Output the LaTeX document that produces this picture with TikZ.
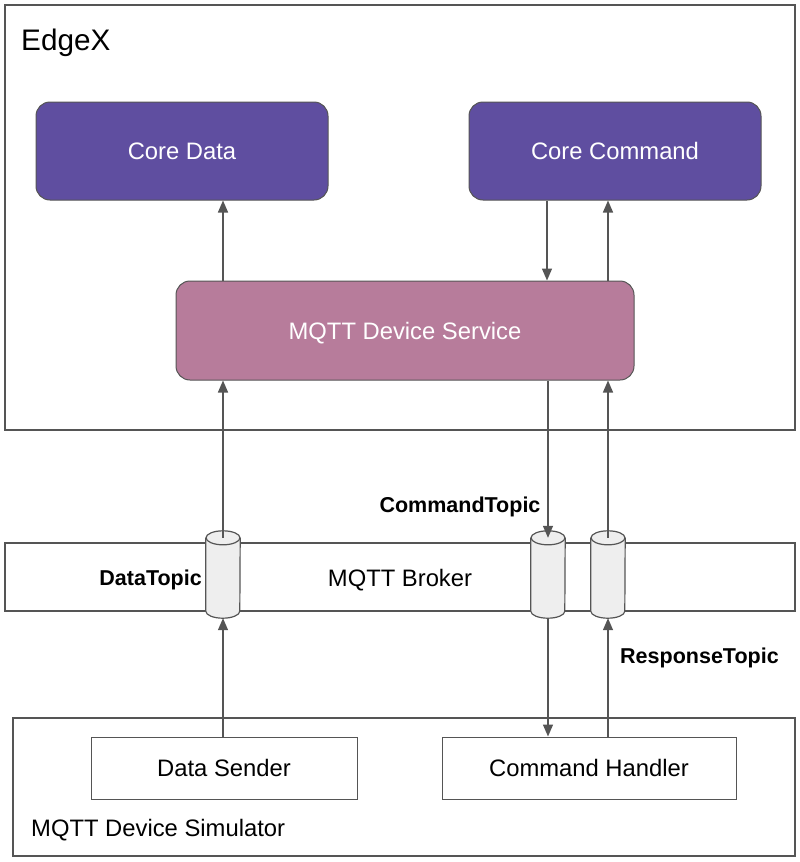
\documentclass[tikz,border=0pt]{standalone}
\usepackage{fontspec}
\setmainfont{Liberation Sans}
\usetikzlibrary{arrows.meta}
\definecolor{corepurple}{HTML}{5F4EA0}
\definecolor{svcpink}{HTML}{B77C9B}
\definecolor{edgegray}{HTML}{555555}
\definecolor{cylfill}{HTML}{EEEEEE}
\begin{document}
\begin{tikzpicture}[x=1pt,y=-1pt,
  frame/.style={draw=edgegray, line width=1.2pt},
  capfix/.style={text height=17pt, text depth=0pt},
  corebox/.style={draw=edgegray, line width=1pt, fill=corepurple, rounded corners=14pt, capfix,
     minimum width=292pt, minimum height=98pt, text=white, font=\fontsize{23.8}{28}\selectfont},
  svcbox/.style={draw=edgegray, line width=1pt, fill=svcpink, rounded corners=14pt, capfix,
     minimum width=458pt, minimum height=99pt, text=white, font=\fontsize{23.8}{28}\selectfont},
  simbox/.style={draw=edgegray, line width=1pt, fill=white, capfix,
     minimum width=266pt, minimum height=62pt, font=\fontsize{23.8}{28}\selectfont},
  topic/.style={inner sep=0pt, minimum width=34pt, minimum height=87pt},
  toplabel/.style={font=\bfseries\fontsize{21.5}{26}\selectfont, text height=15.5pt, text depth=0pt},
  plain/.style={font=\fontsize{23.8}{28}\selectfont},
  conn/.style={draw=edgegray, line width=1.4pt, -{Triangle[length=12pt,width=10pt]}}
]
\useasboundingbox (0,0) rectangle (800,862);

% EdgeX frame
\draw[frame] (5,5) rectangle (795,430);
\node[anchor=base west, inner sep=0pt, font=\fontsize{29.7}{34}\selectfont] (edgex) at (21,50) {EdgeX};

\node[corebox] (cd) at (182,151) {Core Data};
\node[corebox] (cc) at (615,151) {Core Command};
\node[svcbox] (ds) at (405,330.5) {MQTT Device Service};

% Broker frame
\draw[frame] (5,543) rectangle (795,611);
\node[plain, capfix] (broker) at (400,578) {MQTT Broker};

% Simulator frame
\draw[frame] (13,718) rectangle (795,856);
\node[anchor=base west, inner sep=0pt, plain] (simlabel) at (31,836) {MQTT Device Simulator};
\node[simbox] (sender) at (224,768) {Data Sender};
\node[simbox, minimum width=294pt] (handler) at (589,768) {Command Handler};

% topics (cylinders)
\node[topic] (dt) at (223,574.5) {};
\node[topic] (ct) at (548,574.5) {};
\node[topic] (rt) at (608,574.5) {};
\foreach \t in {dt,ct,rt}{
  \fill[cylfill] ([yshift=-7pt]\t.north west) -- ([yshift=7pt]\t.south west)
     arc[start angle=180, end angle=360, x radius=17pt, y radius=7pt]
     -- ([yshift=-7pt]\t.north east)
     arc[start angle=0, end angle=180, x radius=17pt, y radius=7pt] -- cycle;
  \draw[edgegray, line width=1.2pt] ([yshift=-7pt]\t.north west) -- ([yshift=7pt]\t.south west)
     arc[start angle=180, end angle=360, x radius=17pt, y radius=7pt]
     -- ([yshift=-7pt]\t.north east);
  \draw[edgegray, line width=1.2pt, fill=cylfill] ([yshift=-7pt]\t.north) ellipse[x radius=17pt, y radius=7pt];
}

% labels
\node[toplabel, anchor=east, inner sep=0pt] (dtl) at (202,578) {DataTopic};
\node[toplabel, inner sep=0pt] (ctl) at (460,505) {CommandTopic};
\node[toplabel, anchor=west, inner sep=0pt] (rtl) at (620,656) {ResponseTopic};

% connectors
\draw[conn] (ds.north -| 223,0) -- (cd.south -| 223,0);
\draw[conn] (cc.south -| 547,0) -- (ds.north -| 547,0);
\draw[conn] (ds.north -| 608,0) -- (cc.south -| 608,0);

\draw[conn] ([yshift=-7pt]dt.north) -- (ds.south -| dt);
\draw[conn] (ds.south -| ct) -- ([yshift=-7pt]ct.north);
\draw[conn] ([yshift=-7pt]rt.north) -- (ds.south -| rt);

\draw[conn] (sender.north -| dt) -- (dt.south);
\draw[conn] (ct.south) -- (handler.north -| ct);
\draw[conn] (handler.north -| rt) -- (rt.south);
\end{tikzpicture}
\end{document}
